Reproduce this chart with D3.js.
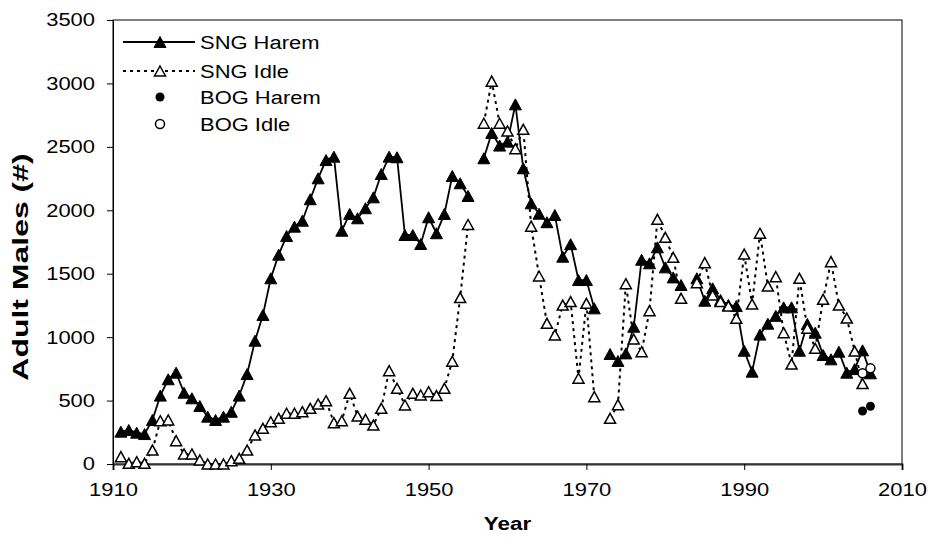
<!DOCTYPE html>
<html>
<head>
<meta charset="utf-8">
<script src="https://cdn.jsdelivr.net/npm/d3@7"></script>
<style>
	body { margin: 0; background: #fff; }
	svg { display: block; font-family: "Liberation Sans", Arial, sans-serif; }
</style>
</head>
<body>
<div id="chart"></div>
<script>
// Adult males, SNG and BOG colonies

const years = d3.range(1911, 2007);

const sngHarem = [
	255, 268, 247, 236, 347, 539, 668, 720, 562, 518,
	457, 373, 347, 373, 412, 539, 709, 972, 1175, 1464,
	1650, 1797, 1871, 1918, 2087, 2252, 2396, 2423, 1839, 1971,
	1937, 2016, 2102, 2286, 2423, 2418, 1805, 1805, 1734, 1945,
	1819, 1971, 2270, 2213, 2113, null, 2410, 2610, 2510, 2541,
	2835, 2331, 2055, 1973, 1906, 1963, 1634, 1733, 1450, 1450,
	1227, null, 867, 812, 872, 1082, 1610, 1582, 1708, 1550,
	1471, 1411, null, 1464, 1287, 1385, 1293, 1253, 1245, 893,
	728, 1020, 1106, 1168, 1235, 1235, 893, 1104, 1035, 859,
	825, 885, 720, 748, 896, 715
];

const sngIdle = [
	58, 5, 18, 5, 110, 341, 347, 184, 79, 79,
	32, 0, 0, 0, 26, 45, 110, 229, 281, 333,
	360, 400, 400, 412, 439, 473, 499, 326, 341, 557,
	378, 352, 307, 439, 736, 597, 465, 557, 544, 570,
	539, 597, 810, 1312, 1888, null, 2686, 3018, 2686, 2625,
	2485, 2638, 1875, 1482, 1109, 1017, 1253, 1280, 676, 1267,
	531, null, 360, 468, 1421, 985, 885, 1209, 1929, 1787,
	1629, 1306, null, 1429, 1587, 1332, 1280, 1245, 1148, 1655,
	1261, 1819, 1403, 1477, 1035, 788, 1464, 1070, 912, 1298,
	1595, 1253, 1150, 890, 634, null
];

const bogYears = [2005, 2006];
const bogHarem = [418, 455];
const bogIdle = [715, 754];

const xTicks = [1910, 1930, 1950, 1970, 1990, 2010];
const yTicks = [0, 500, 1000, 1500, 2000, 2500, 3000, 3500];

const width = 928, height = 538;
const margin = {top: 20, right: 26, bottom: 74, left: 113};
const stretch = "scale(1.18,1)";

let svg = d3.select("#chart")
	.append("svg")
	.attr("width", width)
	.attr("height", height)
	.attr("viewBox", [0, 0, width, height]);

let x = d3.scaleLinear()
	.domain([1910, 2010])
	.range([margin.left, width - margin.right]);

let y = d3.scaleLinear()
	.domain([0, 3500])
	.range([height - margin.bottom, margin.top]);

// plot frame
svg.append("rect")
	.attr("x", x(1910))
	.attr("y", y(3500))
	.attr("width", x(2010) - x(1910))
	.attr("height", y(0) - y(3500))
	.attr("fill", "none")
	.attr("stroke", "#000")
	.attr("stroke-width", 1);

let xAxis = g => g
	.attr("transform", `translate(0,${y(0)})`)
	.call(d3.axisBottom(x).tickValues(xTicks).tickFormat(d3.format("d")).tickSize(6))
	.call(g => g.select(".domain").attr("stroke", "#333").attr("stroke-width", 2))
	.call(g => g.selectAll(".tick line").attr("stroke", "#000"))
	.call(g => g.selectAll(".tick text")
		.attr("y", 19)
		.attr("x", 0)
		.attr("fill", "#000")
		.attr("font-size", 18.6)
		.attr("transform", stretch));

let yAxis = g => g
	.attr("transform", `translate(${x(1910)},0)`)
	.call(d3.axisLeft(y).tickValues(yTicks).tickFormat(d3.format("d")).tickSize(6))
	.call(g => g.select(".domain").attr("stroke", "#000"))
	.call(g => g.selectAll(".tick line").attr("stroke", "#000"))
	.call(g => g.selectAll(".tick text")
		.attr("x", -18 / 1.18)
		.attr("fill", "#000")
		.attr("font-size", 18.6)
		.attr("transform", stretch));

svg.append("g").call(xAxis);
svg.append("g").call(yAxis);

svg.append("text")
	.attr("transform", `translate(${(x(1910) + x(2010)) / 2},530) ${stretch}`)
	.attr("text-anchor", "middle")
	.attr("font-size", 19)
	.attr("font-weight", "bold")
	.text("Year");

svg.append("text")
	.attr("transform", "translate(28,267) scale(1.1,1.6) rotate(-90)")
	.attr("text-anchor", "middle")
	.attr("font-size", 20)
	.attr("font-weight", "bold")
	.text("Adult Males (#)");

// triangle marker, centred on its box
let tri = (w, h) => `M0,${-h / 2}L${w / 2},${h / 2}L${-w / 2},${h / 2}Z`;

let harem = years.map((d, i) => ({year: d, v: sngHarem[i]}));
let idle = years.map((d, i) => ({year: d, v: sngIdle[i]}));

let line = d3.line()
	.defined(d => d.v != null)
	.x(d => x(d.year))
	.y(d => y(d.v));

svg.append("path")
	.datum(harem)
	.attr("fill", "none")
	.attr("stroke", "#000")
	.attr("stroke-width", 1.8)
	.attr("d", line);

svg.append("g")
	.selectAll("path")
	.data(harem.filter(d => d.v != null))
	.join("path")
	.attr("transform", d => `translate(${x(d.year)},${y(d.v)})`)
	.attr("d", tri(12, 11))
	.attr("fill", "#000")
	.attr("stroke", "#000");

svg.append("path")
	.datum(idle)
	.attr("fill", "none")
	.attr("stroke", "#000")
	.attr("stroke-width", 2)
	.attr("stroke-dasharray", "3,4")
	.attr("d", line);

svg.append("g")
	.selectAll("path")
	.data(idle.filter(d => d.v != null))
	.join("path")
	.attr("transform", d => `translate(${x(d.year)},${y(d.v)})`)
	.attr("d", tri(11, 10))
	.attr("fill", "#fff")
	.attr("stroke", "#000")
	.attr("stroke-width", 1.5);

svg.append("g")
	.selectAll("circle")
	.data(bogYears)
	.join("circle")
	.attr("cx", d => x(d))
	.attr("cy", (d, i) => y(bogHarem[i]))
	.attr("r", 4.5)
	.attr("fill", "#000");

svg.append("g")
	.selectAll("circle")
	.data(bogYears)
	.join("circle")
	.attr("cx", d => x(d))
	.attr("cy", (d, i) => y(bogIdle[i]))
	.attr("r", 4.5)
	.attr("fill", "#fff")
	.attr("stroke", "#000")
	.attr("stroke-width", 1.5);

// legend
const legendItems = [
	{name: "SNG Harem", kind: "harem"},
	{name: "SNG Idle", kind: "idle"},
	{name: "BOG Harem", kind: "bogHarem"},
	{name: "BOG Idle", kind: "bogIdle"}
];
const legendY = [42, 71, 97, 124];

let legend = svg.append("g")
	.selectAll("g")
	.data(legendItems)
	.join("g")
	.attr("transform", (d, i) => `translate(0,${legendY[i]})`);

legend.filter(d => d.kind === "harem" || d.kind === "idle")
	.append("line")
	.attr("x1", 123)
	.attr("x2", 195)
	.attr("stroke", "#000")
	.attr("stroke-width", d => d.kind === "harem" ? 1.8 : 2)
	.attr("stroke-dasharray", d => d.kind === "idle" ? "3,4" : null);

legend.filter(d => d.kind === "harem" || d.kind === "idle")
	.append("path")
	.attr("transform", "translate(160,0)")
	.attr("d", d => d.kind === "harem" ? tri(12, 11) : tri(11, 10))
	.attr("fill", d => d.kind === "harem" ? "#000" : "#fff")
	.attr("stroke", "#000")
	.attr("stroke-width", d => d.kind === "harem" ? 1 : 1.5);

legend.filter(d => d.kind === "bogHarem" || d.kind === "bogIdle")
	.append("circle")
	.attr("cx", 160)
	.attr("r", 4.5)
	.attr("fill", d => d.kind === "bogHarem" ? "#000" : "#fff")
	.attr("stroke", "#000")
	.attr("stroke-width", d => d.kind === "bogHarem" ? 0 : 1.5);

legend.append("text")
	.attr("transform", `translate(200,0) ${stretch}`)
	.attr("dy", "0.35em")
	.attr("font-size", 18.6)
	.text(d => d.name);
</script>
</body>
</html>
